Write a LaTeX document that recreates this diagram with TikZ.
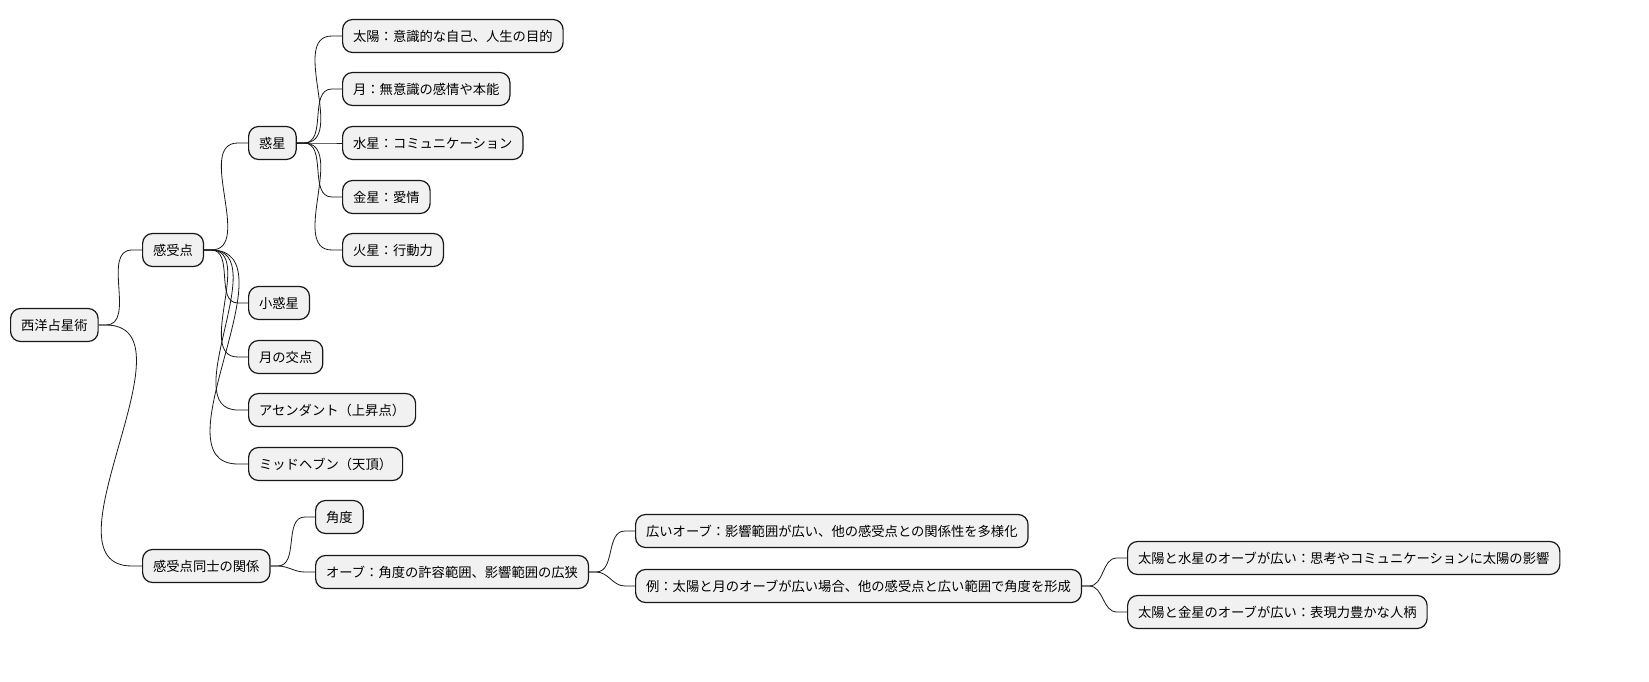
\documentclass[tikz,border=0pt]{standalone}
\usepackage{fontspec}
\setmainfont{Noto Sans CJK JP}
\usetikzlibrary{calc}
\definecolor{boxfill}{HTML}{F1F1F1}
\definecolor{boxline}{HTML}{181818}
\tikzset{
  mm/.style={draw=boxline, fill=boxfill, line width=1.2pt, rounded corners=10pt,
    anchor=west, minimum height=33pt, inner xsep=10.5pt, inner ysep=0pt,
    font=\fontsize{13.3}{15}\selectfont, text=black},
  edge/.style={draw=boxline, line width=0.8pt}
}
\newcommand\mmconn[2]{\draw[edge] (#1.east) -- ++(7,0) to[out=0,in=180] ($(#2.west)+(-10,0)$) -- (#2.west);}
\begin{document}
\begin{tikzpicture}[x=1pt,y=-1pt]
\useasboundingbox (0,0) rectangle (1649,682);
\node[mm] (root) at (10,325) {西洋占星術};
\node[mm] (kj) at (142,250) {感受点};
\node[mm] (kk) at (142,566) {感受点同士の関係};
\node[mm] (wk) at (248,143) {惑星};
\node[mm] (sw) at (248,303) {小惑星};
\node[mm] (tk) at (248,357) {月の交点};
\node[mm] (asc) at (248,410) {アセンダント（上昇点）};
\node[mm] (mc) at (248,464) {ミッドヘブン（天頂）};
\node[mm] (sun) at (342,36) {太陽：意識的な自己、人生の目的};
\node[mm] (moon) at (342,89) {月：無意識の感情や本能};
\node[mm] (mer) at (342,143) {水星：コミュニケーション};
\node[mm] (ven) at (342,197) {金星：愛情};
\node[mm] (mar) at (342,250) {火星：行動力};
\node[mm] (ang) at (315,517) {角度};
\node[mm] (orb) at (315,572) {オーブ：角度の許容範囲、影響範囲の広狭};
\node[mm] (wide) at (635,531) {広いオーブ：影響範囲が広い、他の感受点との関係性を多様化};
\node[mm] (ex) at (635,586) {例：太陽と月のオーブが広い場合、他の感受点と広い範囲で角度を形成};
\node[mm] (sm) at (1127,558) {太陽と水星のオーブが広い：思考やコミュニケーションに太陽の影響};
\node[mm] (sv) at (1127,612) {太陽と金星のオーブが広い：表現力豊かな人柄};
\mmconn{root}{kj}
\mmconn{root}{kk}
\mmconn{kj}{wk}
\mmconn{kj}{sw}
\mmconn{kj}{tk}
\mmconn{kj}{asc}
\mmconn{kj}{mc}
\mmconn{wk}{sun}
\mmconn{wk}{moon}
\mmconn{wk}{mer}
\mmconn{wk}{ven}
\mmconn{wk}{mar}
\mmconn{kk}{ang}
\mmconn{kk}{orb}
\mmconn{orb}{wide}
\mmconn{orb}{ex}
\mmconn{ex}{sm}
\mmconn{ex}{sv}
\end{tikzpicture}
\end{document}
